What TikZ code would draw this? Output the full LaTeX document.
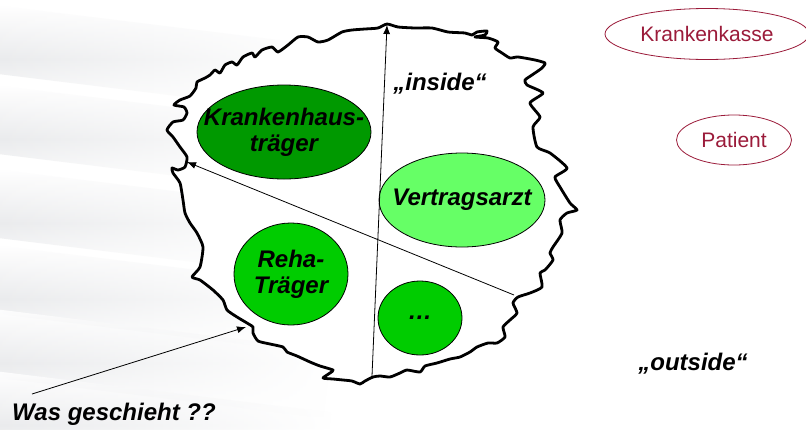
\documentclass[tikz,border=0pt]{standalone}
\usepackage{fontspec}
\setmainfont{Liberation Sans}
\usetikzlibrary{shapes.geometric,arrows.meta,fadings}

\definecolor{darkgreen}{HTML}{009900}
\definecolor{midgreen}{HTML}{00CC00}
\definecolor{lightgreen}{HTML}{66FF66}
\definecolor{wine}{HTML}{9B1B3A}
\definecolor{bandgray}{HTML}{E9EAEC}

\tikzset{
  actor/.style={ellipse, draw=black, line width=0.8pt, inner sep=0pt},
  actortext/.style={font=\fontsize{24}{26}\selectfont\bfseries\itshape, align=center, inner sep=0pt},
  party/.style={ellipse, draw=wine, line width=0.8pt, inner sep=0pt},
  partytext/.style={text=wine, font=\fontsize{21}{24}\selectfont, inner sep=0pt},
  tag/.style={font=\fontsize{24}{26}\selectfont\bfseries\itshape, inner sep=0pt},
  link/.style={line width=0.8pt, -{Latex[length=9pt,width=7pt]}},
  border/.style={line width=2.8pt, line join=round, fill=white},
  band/.style={top color=white, bottom color=white, middle color=bandgray, path fading=east},
}

\begin{document}
\begin{tikzpicture}[x=1pt,y=-1pt]
\useasboundingbox (0,0) rectangle (806,429);
\fill[white] (0,0) rectangle (806,429);

% soft grey bands on the left
\begin{scope}
\clip (0,0) rectangle (806,429);
\foreach \c in {40,120,204,280,344,406}{
  \shade[band, rotate around={-7:(0,\c)}] (-20,\c-34) rectangle (330,\c+34);
}
\end{scope}

% wiggly boundary of the system
\draw[border] plot[smooth cycle, tension=0.35] coordinates {
(387,24) (398,27) (415,28) (432,28) (448,32) (465,33) (472,35) (477,32) (487,31)
(485,35) (475,37) (488,38) (498,42) (495,48) (502,53) (510,58) (518,57) (535,60)
(545,63) (542,68) (532,75) (525,80) (527,85) (543,93) (530,103) (540,117) (533,127)
(537,147) (550,153) (567,168) (555,177) (560,187) (570,203) (577,210) (567,213)
(560,220) (562,233) (553,247) (550,253) (553,260) (545,270) (540,273) (542,287)
(530,293) (518,297) (513,303) (517,313) (510,320) (503,327) (505,337) (497,343)
(488,343) (477,347) (470,352) (460,357) (450,359) (437,363) (425,366) (420,372)
(407,370) (400,373) (390,377) (380,376) (373,377) (365,381) (360,384) (352,381)
(343,380) (333,379) (323,378) (330,373) (333,370) (320,366) (310,362) (297,356)
(287,352) (283,347) (270,344) (258,341) (253,333) (253,327) (247,323) (237,317)
(227,310) (223,300) (213,290) (200,280) (192,277) (200,267) (203,247) (197,233)
(190,223) (185,213) (183,200) (180,183) (173,173) (172,168) (178,170) (185,167)
(187,157) (180,147) (173,137) (167,130) (173,122) (183,120) (187,113) (184,107)
(174,105) (180,100) (190,96) (196,88) (197,82) (205,78) (210,75) (215,70) (220,73)
(225,65) (232,62) (237,65) (243,57) (252,53) (255,57) (262,50) (272,47) (278,52)
(288,45) (298,37) (308,37) (318,42) (328,40) (342,32) (352,30) (365,29) (378,28)
};

% actors inside
\node[actor, fill=darkgreen, minimum width=174pt, minimum height=94pt] (khs) at (284,132) {};
\node[actortext] (khsT) at (khs.center) {Krankenhaus-\\träger};
\node[actor, fill=lightgreen, minimum width=166pt, minimum height=94pt] (va) at (462,200) {};
\node[actortext] (vaT) at (va.center) {Vertragsarzt};
\node[actor, fill=midgreen, minimum width=114pt, minimum height=102pt] (reha) at (291,274) {};
\node[actortext] (rehaT) at (reha.center) {Reha-\\Träger};
\node[actor, fill=midgreen, minimum width=84pt, minimum height=74pt] (etc) at (420,318) {};
\node[actortext] (etcT) at (etc.center) {…};

% outside parties
\node[party, minimum width=204pt, minimum height=51pt] (kk) at (707,34) {};
\node[partytext] (kkT) at (kk.center) {Krankenkasse};
\node[party, minimum width=115pt, minimum height=50pt] (pat) at (734,140) {};
\node[partytext] (patT) at (pat.center) {Patient};

% labels
\node[tag] (inside) at (440,84) {„inside“};
\node[tag] (outside) at (693,364) {„outside“};
\node[tag, anchor=west] (was) at (12,414) {Was geschieht ??};

% connectors
\coordinate (vbot) at (372,376);
\coordinate (vtop) at (387,25);
\coordinate (dstart) at (514,295);
\coordinate (dend) at (187,162);
\coordinate (wstart) at (32,394);
\coordinate (wend) at (246,327);
\draw[link] (vbot) -- (vtop);
\draw[link] (dstart) -- (dend);
\draw[link] (wstart) -- (wend);
\end{tikzpicture}
\end{document}
